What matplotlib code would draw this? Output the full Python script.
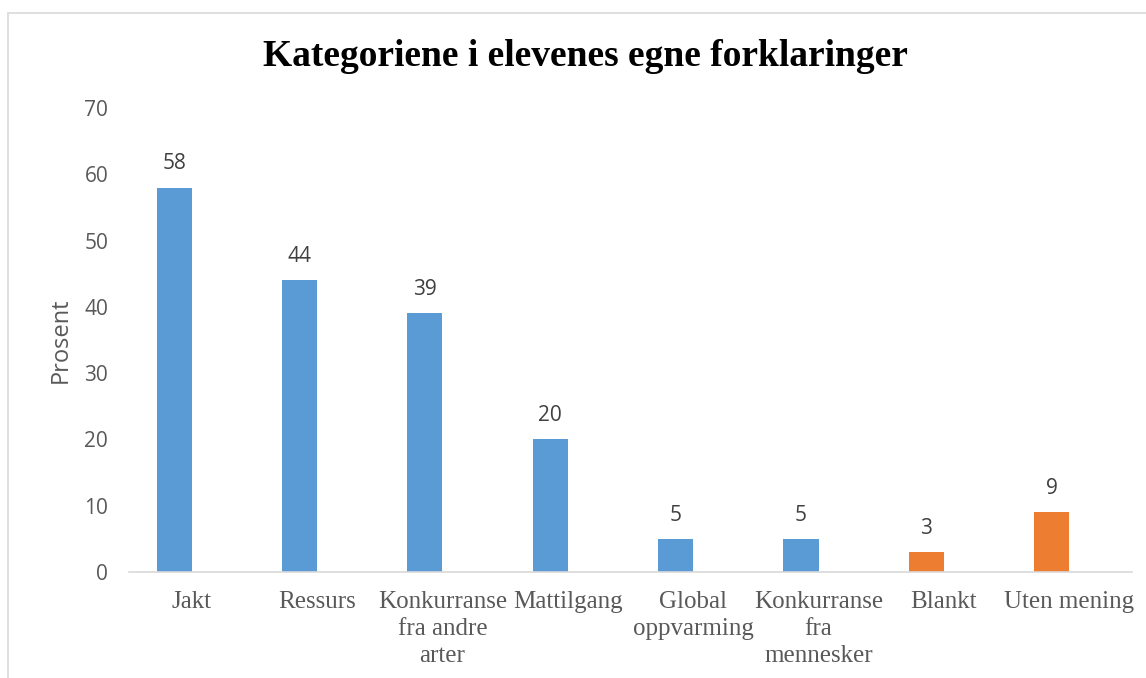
import matplotlib.pyplot as plt
from matplotlib.patches import Rectangle

categories = ["Jakt", "Ressurs", "Konkurranse\nfra andre\narter", "Mattilgang",
              "Global\noppvarming", "Konkurranse\nfra\nmennesker", "Blankt", "Uten mening"]
values = [58, 44, 39, 20, 5, 5, 3, 9]
colors = ["#5B9BD5"] * 6 + ["#ED7D31"] * 2

fig = plt.figure(figsize=(11.46, 6.78), dpi=100)
ax = fig.add_axes([129 / 1146, 1 - 572 / 678, (1132 - 129) / 1146, (572 - 108) / 678])

x = range(len(categories))
pos = [i - 0.14 for i in x]
bars = ax.bar(pos, values, width=0.28, color=colors)

for b, v in zip(bars, values):
    ax.annotate(str(v), (b.get_x() + b.get_width() / 2, v), xytext=(0, 9.5),
                textcoords="offset points", ha="center", va="bottom",
                fontsize=15, family="Open Sans", color="#404040")

ax.set_xlim(-0.5, len(categories) - 0.5)
ax.set_ylim(0, 70)
ax.set_yticks(range(0, 71, 10))
ax.set_xticks(list(x))
ax.set_xticklabels(categories, family="Liberation Serif", fontsize=18,
                   color="#595959", linespacing=1.28)
for lab in ax.get_yticklabels():
    lab.set_family("Open Sans")
    lab.set_fontsize(15)
    lab.set_color("#595959")
ax.tick_params(axis="both", length=0)
ax.tick_params(axis="y", pad=15)
ax.tick_params(axis="x", pad=14)

for s in ["top", "right", "left"]:
    ax.spines[s].set_visible(False)
ax.spines["bottom"].set_color("#D9D9D9")
ax.spines["bottom"].set_linewidth(1.2)

ax.set_ylabel("Prosent", family="Open Sans", fontsize=17, color="#595959", labelpad=8)

fig.text(585 / 1146, 1 - 56 / 678, "Kategoriene i elevenes egne forklaringer",
         ha="center", va="center", family="Liberation Serif", fontweight="bold",
         fontsize=27, color="black")

fig.patches.append(Rectangle((8 / 1146, -0.1), 1.2, 1 - 13 / 678 + 0.1,
                             transform=fig.transFigure, fill=False,
                             edgecolor="#D9D9D9", linewidth=1.2))

fig.savefig("out.png", dpi=100)
